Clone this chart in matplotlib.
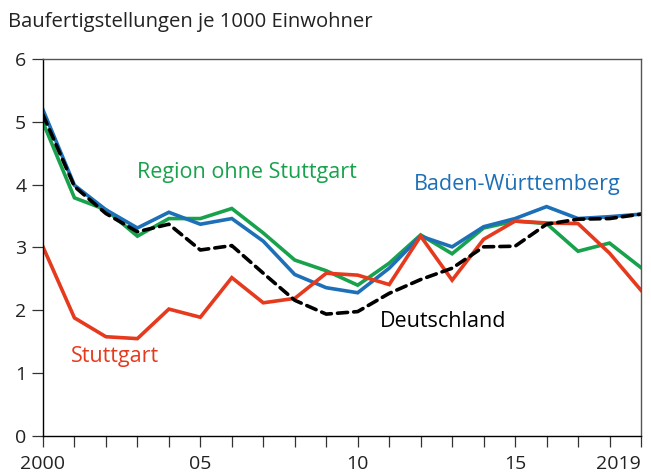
import numpy as np
import matplotlib.pyplot as plt

plt.rcParams['font.family'] = ['Open Sans', 'DejaVu Sans']

years = list(range(2000, 2020))
stuttgart = [3.01, 1.88, 1.58, 1.55, 2.02, 1.89, 2.52, 2.12, 2.19, 2.59,
             2.56, 2.41, 3.18, 2.48, 3.13, 3.42, 3.39, 3.38, 2.91, 2.32]
region = [4.99, 3.79, 3.60, 3.18, 3.46, 3.46, 3.62, 3.23, 2.80, 2.63,
          2.40, 2.75, 3.20, 2.90, 3.31, 3.42, 3.38, 2.94, 3.07, 2.68]
bawue = [5.19, 3.99, 3.60, 3.31, 3.56, 3.37, 3.46, 3.10, 2.57, 2.36,
         2.28, 2.67, 3.18, 3.01, 3.33, 3.46, 3.65, 3.46, 3.49, 3.53]
deutschland = [5.11, 3.97, 3.54, 3.25, 3.37, 2.96, 3.03, 2.59, 2.16, 1.94,
               1.98, 2.27, 2.49, 2.67, 3.01, 3.02, 3.37, 3.45, 3.46, 3.53]

xtick_pos = [2000, 2005, 2010, 2015, 2019]
xtick_labels = ['2000', '05', '10', '15', '2019']

red = '#e63a1e'
green = '#17a24b'
blue = '#1d6fb8'

fig = plt.figure(figsize=(6.51, 4.75), dpi=100)
ax = fig.add_axes([0.066, 0.082, 0.9186, 0.794])

ax.plot(years, region, color=green, lw=2.6, solid_joinstyle='miter')
ax.plot(years, bawue, color=blue, lw=2.6, solid_joinstyle='miter')
ax.plot(years, stuttgart, color=red, lw=2.6, solid_joinstyle='miter')
ax.plot(years, deutschland, color='black', lw=2.6, ls=(0, (2.8, 1.7)),
        dash_capstyle='round')

ax.set_xlim(2000, 2019)
ax.set_ylim(0, 6)
ax.set_yticks(range(0, 7))
ax.set_xticks(years, minor=True)
ax.set_xticks(xtick_pos)
ax.set_xticklabels(xtick_labels)
ax.tick_params(axis='both', which='both', direction='out', length=8,
               width=0.9, labelsize=14, color='#333333', labelcolor='#222222')
ax.tick_params(axis='x', which='minor', length=8)
ax.tick_params(axis='x', pad=6)
ax.tick_params(axis='y', pad=4)
ax.get_xticklabels()[-1].set_horizontalalignment('right')

for s in ['top', 'right']:
    ax.spines[s].set_color('#555555')
    ax.spines[s].set_linewidth(1.0)
for s in ['left', 'bottom']:
    ax.spines[s].set_color('black')
    ax.spines[s].set_linewidth(1.0)

fig.text(0.012, 0.953, 'Baufertigstellungen je 1000 Einwohner', fontsize=14.6,
         color='#222222', va='center', ha='left')

ax.text(2003.0, 4.2, 'Region ohne Stuttgart', color=green, fontsize=15.5, va='center')
ax.text(2011.8, 4.0, 'Baden-Württemberg', color=blue, fontsize=15.5, va='center')
ax.text(2000.9, 1.27, 'Stuttgart', color=red, fontsize=15.5, va='center')
ax.text(2010.7, 1.83, 'Deutschland', color='black', fontsize=15.5, va='center')

fig.savefig('out.png', dpi=100)
